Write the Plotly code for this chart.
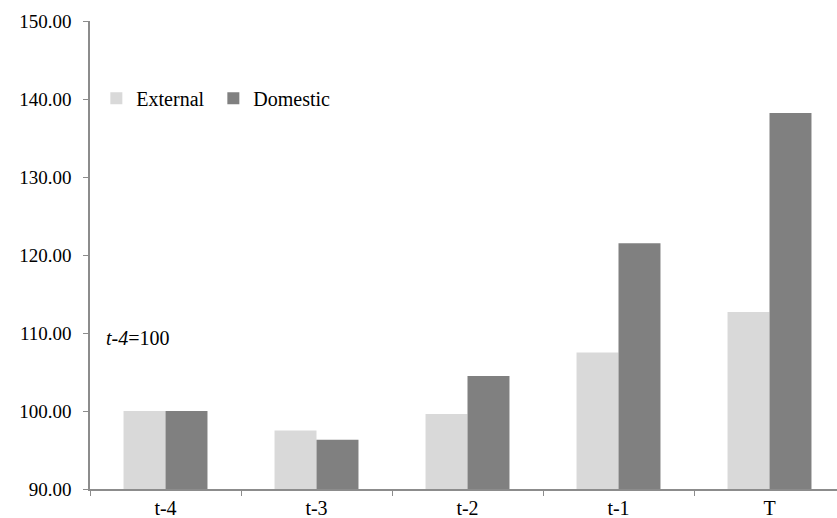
import plotly.graph_objects as go

periods = ["t-4", "t-3", "t-2", "t-1", "T"]
external = [100.0, 97.5, 99.6, 107.5, 112.7]
domestic = [100.0, 96.3, 104.5, 121.5, 138.2]

FONT = "'Times New Roman', 'Liberation Serif', 'DejaVu Serif', serif"
AXIS_GREY = "#8c8c8c"

fig = go.Figure()
fig.add_trace(go.Bar(name="External", x=periods, y=external,
                     marker=dict(color="#d9d9d9", line=dict(width=0))))
fig.add_trace(go.Bar(name="Domestic", x=periods, y=domestic,
                     marker=dict(color="#808080", line=dict(width=0))))

fig.update_layout(
    width=837, height=518,
    margin=dict(l=90, r=0, t=21, b=29),
    paper_bgcolor="white", plot_bgcolor="white",
    barmode="group", bargap=0.444, bargroupgap=0,
    font=dict(family=FONT, size=19, color="#000000"),
    showlegend=True,
    legend=dict(orientation="h", x=0.0085, y=0.835, xanchor="left", yanchor="middle",
                font=dict(family=FONT, size=20), itemwidth=30,
                entrywidth=72, entrywidthmode="pixels",
                bgcolor="rgba(0,0,0,0)", tracegroupgap=0),
    annotations=[dict(text="<i>t-4</i>=100", xref="paper", yref="y",
                      x=0.019, y=109.4, xanchor="left", yanchor="middle",
                      showarrow=False, font=dict(family=FONT, size=20))],
)

fig.update_xaxes(
    range=[-0.5, 4.447], showline=True, linecolor=AXIS_GREY, linewidth=1.5,
    ticks="outside", tickson="boundaries", ticklen=5, tickcolor=AXIS_GREY,
    showgrid=False, zeroline=False, tickfont=dict(family=FONT, size=20),
)
fig.update_yaxes(
    range=[90, 150], dtick=10, tickformat=".2f", showline=True,
    linecolor=AXIS_GREY, linewidth=1.5, ticks="outside", ticklen=5,
    tickcolor=AXIS_GREY, showgrid=False, zeroline=False,
    ticklabelstandoff=8, tickfont=dict(family=FONT, size=19),
)

fig.write_html("out.html")
